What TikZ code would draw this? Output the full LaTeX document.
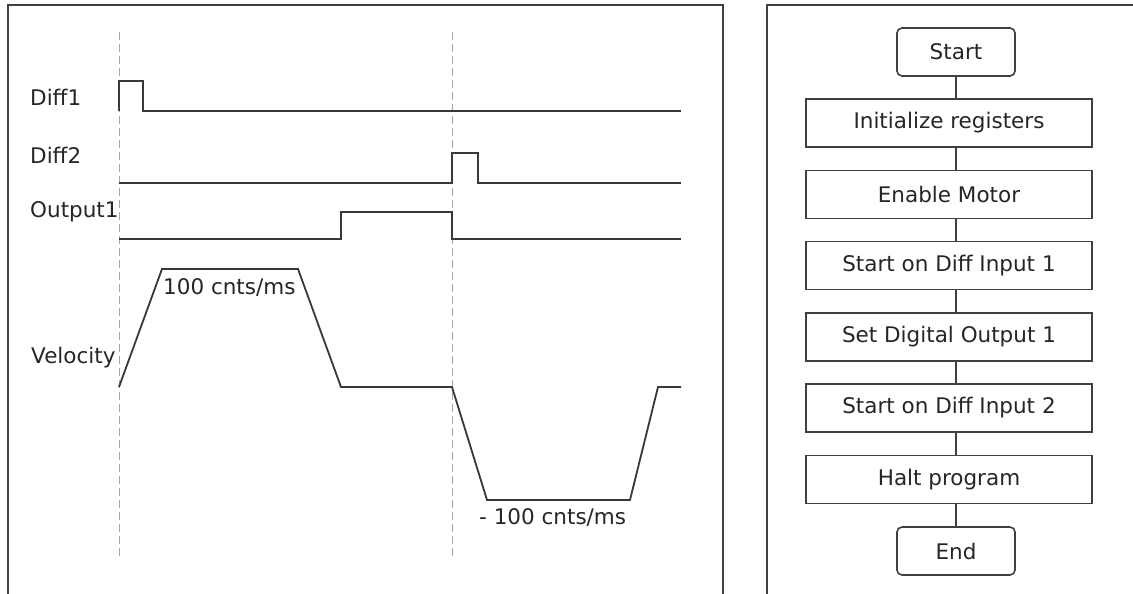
\documentclass[tikz,border=0pt]{standalone}
\usepackage{fontspec}
\setmainfont{DejaVu Sans}
\begin{document}
\begin{tikzpicture}[x=1pt,y=-1pt,
  txt/.style={text=black!85, font=\fontsize{21.5}{25}\selectfont, inner sep=0pt},
  frame/.style={draw=black!75, line width=2pt},
  trace/.style={draw=black!78, line width=1.8pt, line join=miter},
  guide/.style={draw=black!35, line width=0.9pt, dash pattern=on 8pt off 4pt},
  box/.style={draw=black!75, line width=1.6pt, minimum width=286pt, minimum height=48pt, inner sep=0pt, text=black!85, font=\fontsize{21.5}{25}\selectfont},
  term/.style={box, minimum width=118pt, rounded corners=5pt},
  conn/.style={draw=black!75, line width=1.6pt}]
\useasboundingbox (0,0) rectangle (1133,594);
\fill[white] (0,0) rectangle (1133,594);
% panels
\draw[frame] (8,600) -- (8,5) -- (723,5) -- (723,600);
\draw[frame] (767,600) -- (767,5) -- (1140,5);
% guides
\coordinate (g1t) at (119,32); \coordinate (g1b) at (119,557);
\coordinate (g2t) at (452,32); \coordinate (g2b) at (452,557);
\draw[guide] (g1t) -- (g1b);
\draw[guide] (g2t) -- (g2b);
% labels
\node[txt, anchor=west] (ld1) at (30,97) {Diff1};
\node[txt, anchor=west] (ld2) at (30,155) {Diff2};
\node[txt, anchor=west] (lo1) at (30,212) {Output1};
\node[txt, anchor=west] (lv) at (31,358) {Velocity};
% traces
\draw[trace] (119,111) -- (119,81) -- (143,81) -- (143,111) -- (681,111);
\draw[trace] (119,183) -- (452,183) -- (452,153) -- (478,153) -- (478,183) -- (681,183);
\draw[trace] (119,239) -- (341,239) -- (341,212) -- (452,212) -- (452,239) -- (681,239);
\draw[trace] (119,387) -- (162,269) -- (298,269) -- (341,387) -- (452,387) -- (487,500) -- (630,500) -- (658,387) -- (681,387);
\node[txt, anchor=west] (vmax) at (163,288) {100 cnts/ms};
\node[txt, anchor=west] (vmin) at (479,518) {- 100 cnts/ms};
% flowchart
\node[term] (start) at (956,52) {Start};
\node[box] (init) at (949,123) {Initialize registers};
\node[box] (enable) at (949,194.5) {Enable Motor};
\node[box] (sd1) at (949,265.5) {Start on Diff Input 1};
\node[box] (sdo) at (949,337) {Set Digital Output 1};
\node[box] (sd2) at (949,408) {Start on Diff Input 2};
\node[box] (halt) at (949,479.5) {Halt program};
\node[term] (end) at (956,551) {End};
\draw[conn] (start.south) -- (start.south |- init.north);
\draw[conn] (init.south -| start) -- (enable.north -| start);
\draw[conn] (enable.south -| start) -- (sd1.north -| start);
\draw[conn] (sd1.south -| start) -- (sdo.north -| start);
\draw[conn] (sdo.south -| start) -- (sd2.north -| start);
\draw[conn] (sd2.south -| start) -- (halt.north -| start);
\draw[conn] (halt.south -| end) -- (end.north);
\end{tikzpicture}
\end{document}
